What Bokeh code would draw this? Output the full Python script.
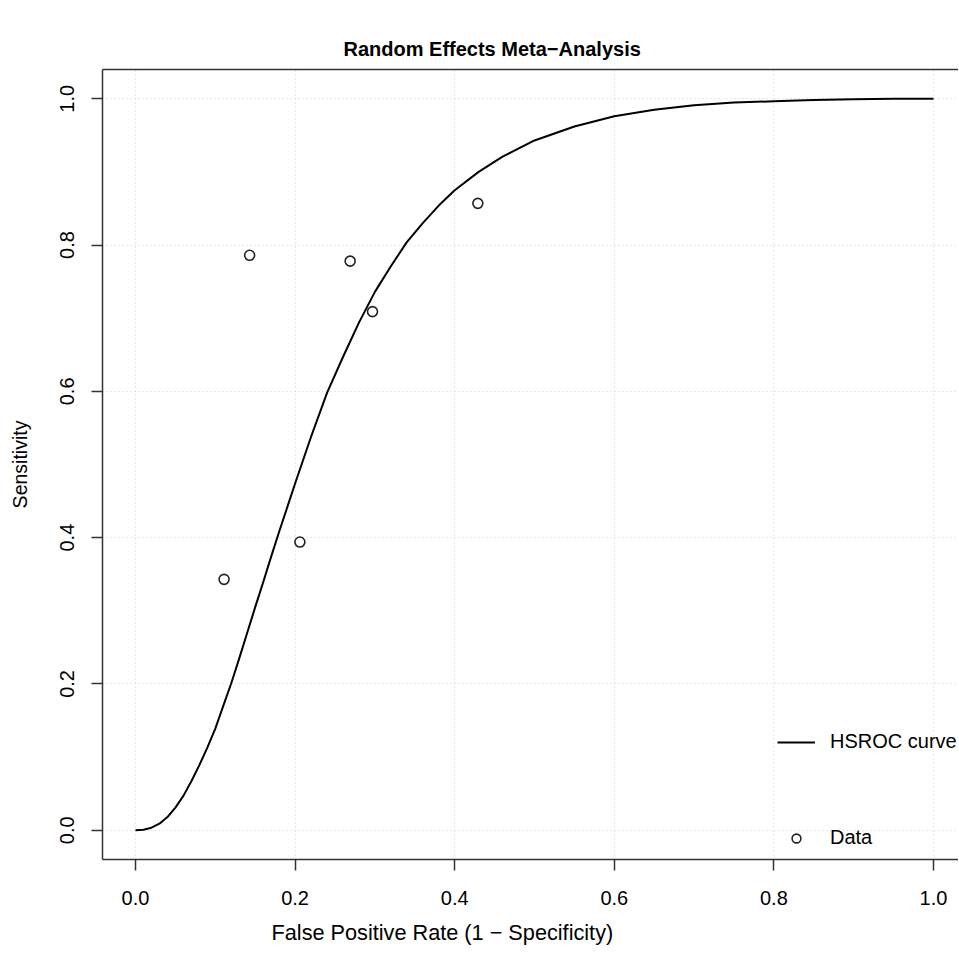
from bokeh.plotting import figure
from bokeh.models import (Range1d, LinearAxis, FixedTicker, Legend, LegendItem,
                          ColumnDataSource, NumeralTickFormatter, Title)
from bokeh.embed import file_html
from bokeh.resources import INLINE

# ---- data ----
curve_fpr = [0.00, 0.01, 0.02, 0.03, 0.04, 0.05, 0.06, 0.07, 0.08, 0.09,
             0.10, 0.11, 0.12, 0.13, 0.14, 0.15, 0.16, 0.17, 0.18, 0.19,
             0.20, 0.22, 0.24, 0.26, 0.28, 0.30, 0.32, 0.34, 0.36, 0.38,
             0.40, 0.43, 0.46, 0.50, 0.55, 0.60, 0.65, 0.70, 0.75, 0.80,
             0.85, 0.90, 0.95, 1.00]
curve_sens = [0.000, 0.0008, 0.0035, 0.009, 0.018, 0.031, 0.047, 0.067, 0.089, 0.113,
              0.139, 0.170, 0.201, 0.235, 0.270, 0.305, 0.339, 0.374, 0.408, 0.441,
              0.474, 0.538, 0.598, 0.647, 0.694, 0.736, 0.771, 0.804, 0.830, 0.854,
              0.875, 0.900, 0.921, 0.943, 0.962, 0.976, 0.985, 0.991, 0.995, 0.9965,
              0.9983, 0.9993, 0.9999, 1.000]

data_fpr = [0.111, 0.143, 0.206, 0.269, 0.297, 0.429]
data_sens = [0.343, 0.786, 0.394, 0.778, 0.709, 0.857]

x_ticks = [0.0, 0.2, 0.4, 0.6, 0.8, 1.0]
y_ticks = [0.0, 0.2, 0.4, 0.6, 0.8, 1.0]

title_text = "Random Effects Meta\u2212Analysis"
x_label = "False Positive Rate (1 \u2212 Specificity)"
y_label = "Sensitivity"
legend_labels = ["HSROC curve", "Data"]

FONT = "Liberation Sans"
AXC = "#333333"

p = figure(width=958, height=954, output_backend="svg", toolbar_location=None,
           x_range=Range1d(-0.04135, 1.03133), y_range=Range1d(-0.04, 1.04),
           min_border_left=102, min_border_right=0, min_border_top=69,
           min_border_bottom=95)
p.outline_line_color = None
p.background_fill_color = "white"
p.border_fill_color = "white"

# title
p.title.text = title_text
p.title.text_font = FONT
p.title.text_font_size = "20px"
p.title.text_font_style = "bold"
p.title.align = "left"
p.title.offset = 241
p.title.standoff = 19
p.title.text_color = "black"

# axes
for ax in (p.xaxis[0], p.yaxis[0]):
    ax.axis_line_color = AXC
    ax.axis_line_width = 1.5
    ax.major_tick_line_color = AXC
    ax.major_tick_line_width = 1.5
    ax.major_tick_in = 0
    ax.major_tick_out = 11
    ax.minor_tick_line_color = None
    ax.major_label_text_font = FONT
    ax.major_label_text_font_size = "20px"
    ax.major_label_text_color = "black"
    ax.axis_label_text_font = FONT
    ax.axis_label_text_font_size = "19.5px"
    ax.axis_label_text_font_style = "normal"
    ax.axis_label_text_color = "black"
    ax.formatter = NumeralTickFormatter(format="0.0")

p.xaxis[0].ticker = FixedTicker(ticks=x_ticks)
p.yaxis[0].ticker = FixedTicker(ticks=y_ticks)
p.yaxis[0].axis_label = y_label
p.xaxis[0].major_label_standoff = 20
p.yaxis[0].major_label_standoff = 17
p.yaxis[0].axis_label_standoff = 27
p.yaxis[0].major_label_orientation = "vertical"

# x-axis label as a title below (positioned like the reference)
xl = Title(text=x_label, align="left", offset=169, standoff=20,
           text_font=FONT, text_font_size="21.7px", text_font_style="normal",
           text_line_height=0.8, text_color="black")
p.add_layout(xl, "below")

# top border as an axis with no ticks
top = LinearAxis(ticker=FixedTicker(ticks=[]), axis_line_color=AXC, axis_line_width=1.5,
                 major_tick_out=0, major_tick_in=0, minor_tick_out=0, minor_tick_in=0,
                 major_label_standoff=0, major_label_text_font_size="0px")
p.add_layout(top, "above")

# grid
p.xgrid.ticker = FixedTicker(ticks=x_ticks)
p.ygrid.ticker = FixedTicker(ticks=y_ticks)
for g in (p.xgrid[0], p.ygrid[0]):
    g.grid_line_color = "#d3d3d3"
    g.grid_line_dash = "1 3"
    g.grid_line_width = 1.2

curve_src = ColumnDataSource(dict(x=curve_fpr, y=curve_sens))
pts_src = ColumnDataSource(dict(x=data_fpr, y=data_sens))

r_line = p.line("x", "y", source=curve_src, line_color="black", line_width=2,
                line_join="round")
r_pts = p.scatter("x", "y", source=pts_src, marker="circle", size=10,
                  fill_color=None, line_color="#222222", line_width=1.6)

legend = Legend(items=[LegendItem(label=legend_labels[0], renderers=[r_line]),
                       LegendItem(label=legend_labels[1], renderers=[r_pts])],
                location=(675, 10), orientation="vertical",
                padding=0, margin=0, spacing=73,
                glyph_width=38, glyph_height=22, label_height=22,
                label_standoff=15,
                label_text_font=FONT, label_text_font_size="20px",
                label_text_color="black",
                border_line_color=None, background_fill_alpha=0)
p.add_layout(legend)

open("out.html", "w").write(file_html(p, INLINE))
